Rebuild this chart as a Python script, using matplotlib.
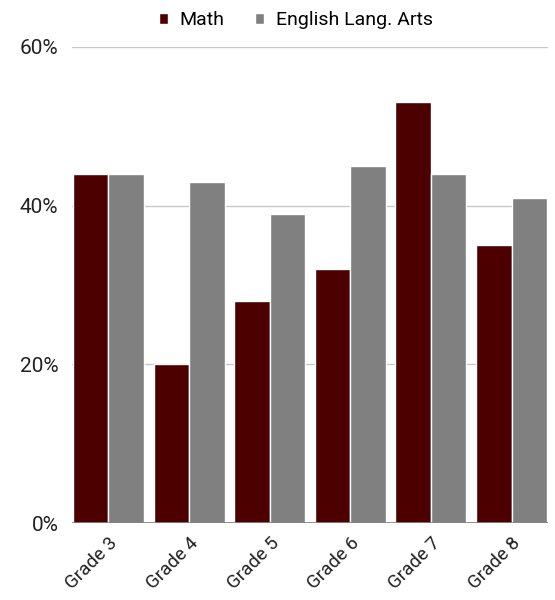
import matplotlib
matplotlib.use("Agg")
import matplotlib.pyplot as plt
import numpy as np
from matplotlib.ticker import PercentFormatter

plt.rcParams['font.family'] = ['Roboto', 'DejaVu Sans']

grades = ["Grade 3", "Grade 4", "Grade 5", "Grade 6", "Grade 7", "Grade 8"]
math = [44, 20, 28, 32, 53, 35]
ela = [44, 43, 39, 45, 44, 41]

math_color = "#4d0000"
ela_color = "#808080"

fig = plt.figure(figsize=(5.55, 6), dpi=100)
ax = fig.add_axes([0.13, 0.128, 0.857, 0.794])

x = np.arange(len(grades))
w = 0.44
ax.bar(x - w / 2, math, width=w, color=math_color, edgecolor="white", linewidth=1,
       label="Math", zorder=3)
ax.bar(x + w / 2, ela, width=w, color=ela_color, edgecolor="white", linewidth=1,
       label="English Lang. Arts", zorder=3)

ax.set_ylim(0, 60)
ax.set_xlim(-0.45, 5.45)
ax.set_yticks([0, 20, 40, 60])
ax.yaxis.set_major_formatter(PercentFormatter(decimals=0))
ax.grid(axis="y", color="#c8c8c8", linewidth=1, zorder=0)
ax.axhline(0, color="#808080", linewidth=1.2, zorder=4)

for s in ax.spines.values():
    s.set_visible(False)
ax.tick_params(axis="both", length=0, colors="#222222")
ax.tick_params(axis="y", pad=10, labelsize=15)
ax.set_xticks(x)
ax.set_xticklabels(grades, rotation=45, ha="right", rotation_mode="anchor")
ax.tick_params(axis="x", pad=8, labelsize=13.5)

ax.legend(loc="lower center", bbox_to_anchor=(0.5 - 0.03, 1.0), ncol=2, frameon=False,
          fontsize=14, handlelength=0.45, handleheight=0.45, handletextpad=0.6,
          columnspacing=1.6)

fig.savefig("out.png", dpi=100)
